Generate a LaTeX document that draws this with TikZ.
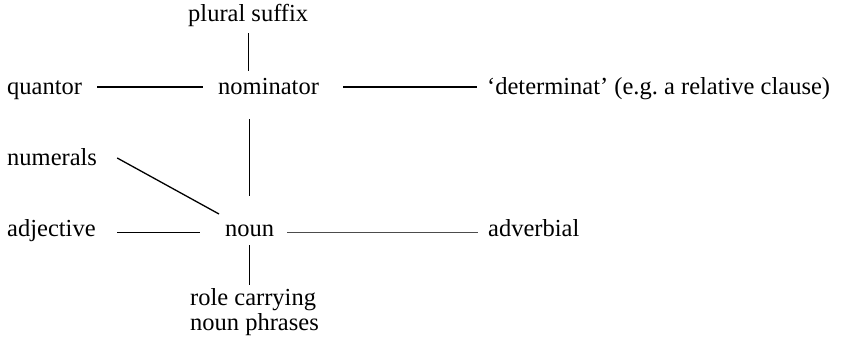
\documentclass[tikz,border=0pt]{standalone}
\usepackage{fontspec}
\setmainfont{Liberation Serif}
\begin{document}
\begin{tikzpicture}[x=1pt,y=1pt,
  lbl/.style={anchor=base west, inner sep=0pt, font=\fontsize{24.5}{25}\selectfont},
  link/.style={line width=1.5pt, black},
  stem/.style={line width=1pt, black}]
\useasboundingbox (0,0) rectangle (845,343);

% labels
\node[lbl] (plural)    at (188,321) {plural suffix};
\node[lbl] (quantor)   at (7,248)   {quantor};
\node[lbl] (nominator) at (218,248) {nominator};
\node[lbl] (determ)    at (487,248) {`determinat' (e.g.\ a relative clause)};
\node[lbl] (numerals)  at (7,178)   {numerals};
\node[lbl] (adjective) at (7,107)   {adjective};
\node[lbl] (noun)      at (225,107) {noun};
\node[lbl] (adverbial) at (488,107) {adverbial};
\node[lbl, align=left, anchor=north west] (role) at (190,55) {role carrying\\noun phrases};

% vertical stems
\draw[stem, shorten <=6pt, shorten >=8pt] (plural.south) -- (plural.south |- nominator.north);
\draw[stem, shorten <=24pt, shorten >=28pt] (noun.north |- nominator.south) -- (noun.north);
\draw[stem, shorten <=9pt, shorten >=3pt] (noun.south) -- (noun.south |- role.north);

% horizontal links
\draw[link, shorten <=15pt, shorten >=15pt] ([yshift=8pt]quantor.base east) -- ([yshift=8pt]nominator.base west);
\draw[link, shorten <=24pt, shorten >=10pt] ([yshift=8pt]nominator.base east) -- ([yshift=8pt]determ.base west);
\draw[link, shorten <=21.5pt, shorten >=25pt] ([yshift=3.5pt]adjective.base east) -- ([yshift=3.5pt]noun.base west);
\draw[link, black!70, shorten <=13pt, shorten >=10pt] ([yshift=3.5pt]noun.base east) -- ([yshift=3.5pt]adverbial.base west);

% diagonal link
\draw[link, line width=1.3pt] ([shift={(20pt,7pt)}]numerals.base east) -- ([shift={(-6pt,22pt)}]noun.base west);
\end{tikzpicture}
\end{document}
